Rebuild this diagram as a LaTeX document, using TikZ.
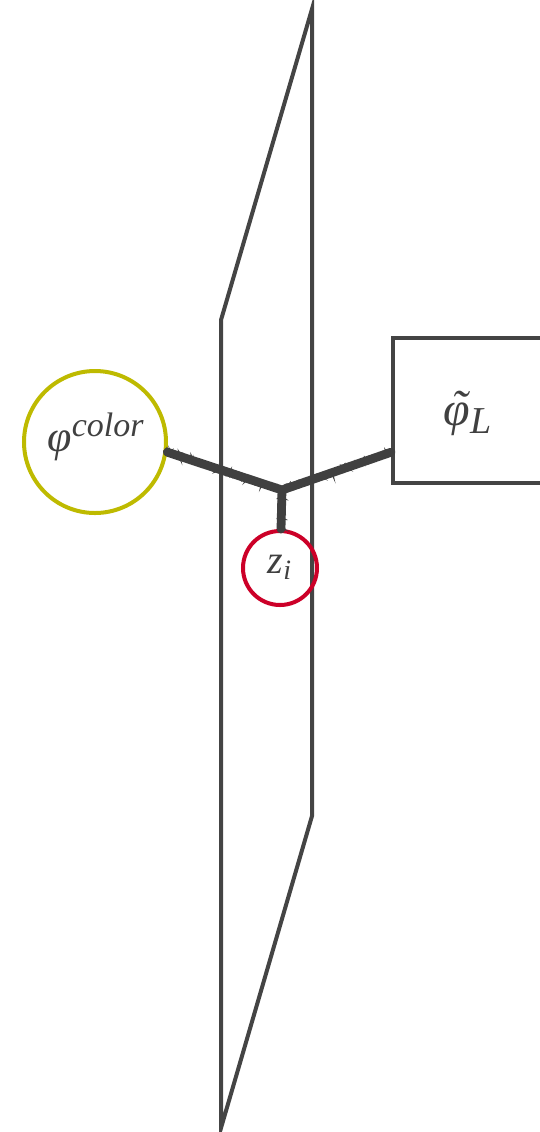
\documentclass[tikz,border=0pt]{standalone}
\usepackage{fontspec}
\setmainfont{Liberation Serif}
\usetikzlibrary{decorations.pathmorphing,calc}
\definecolor{planegray}{RGB}{68,68,68}
\definecolor{conngray}{RGB}{64,64,64}
\definecolor{olive}{RGB}{190,186,0}
\definecolor{crimson}{RGB}{204,0,40}
\newcommand{\tildephi}{\ooalign{φ\cr\hidewidth\kern0.12em\raisebox{0.05em}{˜}\hidewidth\cr}}
\tikzset{
  plane/.style={draw=planegray,line width=2pt,line join=miter},
  yellowcirc/.style={circle,draw=olive,line width=2pt,minimum size=71pt,inner sep=0pt},
  redcirc/.style={circle,draw=crimson,line width=2pt,minimum size=37pt,inner sep=0pt},
  boxnode/.style={rectangle,draw=planegray,line width=2pt,minimum width=80pt,minimum height=72.5pt,inner sep=0pt},
  conn/.style={draw=conngray,line width=4.4pt,line cap=round,line join=round},
  rough/.style={draw=conngray,line width=0.8pt,decorate,decoration={random steps,segment length=1pt,amplitude=1.8pt}},
  lbl/.style={font=\fontsize{22}{26}\selectfont\itshape,text=conngray}
}
\begin{document}
\begin{tikzpicture}[x=0.5pt,y=-0.5pt]
\useasboundingbox (0,0) rectangle (540,1132);
% plane
\draw[plane] (312,9) -- (312,816) -- (221,1128) -- (221,320) -- cycle;
% nodes
\node[yellowcirc] (yc) at (95,442) {};
\node[lbl] (yct) at (96,437) {φ\textsuperscript{\fontsize{17}{20}\selectfont color}};
\node[redcirc] (zc) at (280,568) {};
\node[lbl,font=\fontsize{20}{24}\selectfont\itshape] (zct) at (280,567) {z\textsubscript{i}};
\node[boxnode,anchor=north west] (box) at (391,336) {};
\node[lbl,font=\fontsize{24}{28}\selectfont\itshape] (boxt) at (468,418) {\tildephi\textsubscript{\fontsize{19}{22}\selectfont L}};
% connectors
\coordinate (j) at (282,490);
\coordinate (yx) at (yc.-8);
\coordinate (bx) at ($(box.south west)!0.22!(box.north west)$);
\draw[conn] (yx) -- (j) -- (bx);
\draw[conn] (j) -- (zc);
\foreach \k in {1,2,3}{
  \draw[rough] (yx) -- (j) -- (bx);
  \draw[rough] (j) -- (zc);
}
\end{tikzpicture}
\end{document}
